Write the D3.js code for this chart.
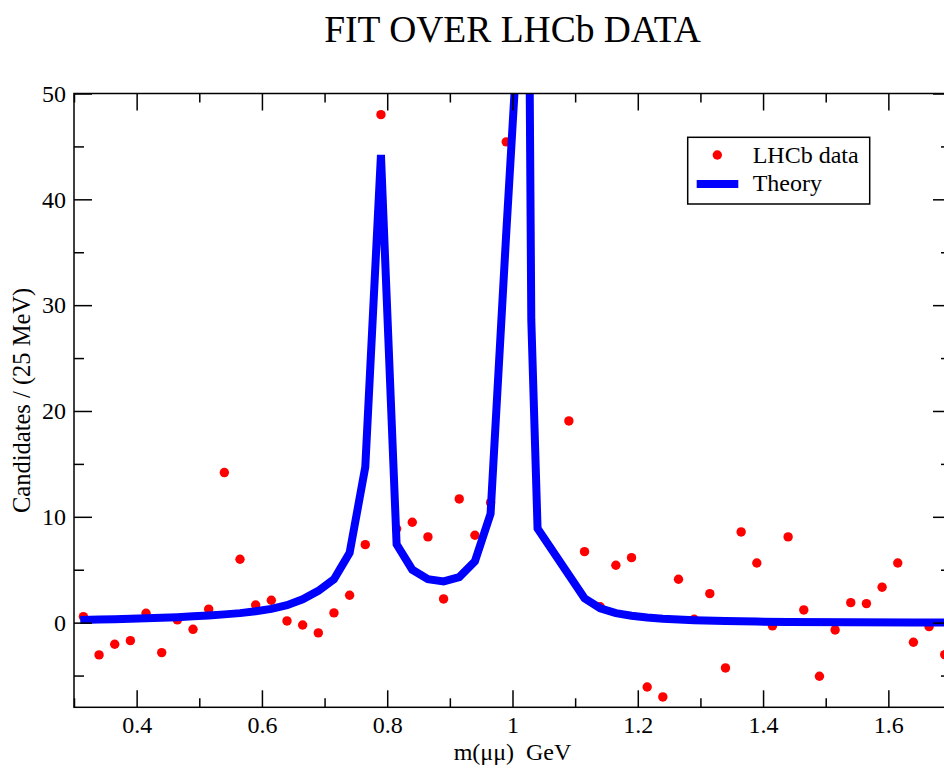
<!DOCTYPE html>
<html>
<head>
<meta charset="utf-8">
<script src="https://cdn.jsdelivr.net/npm/d3@7"></script>
<style>
  html, body { margin: 0; padding: 0; background: #fff; }
  svg { display: block; }
  text { font-family: "Liberation Serif", "Times New Roman", serif; fill: #000; }
</style>
</head>
<body>
<svg id="chart" width="944" height="769"></svg>
<script>
// ---- data ----
const title = "FIT OVER LHCb DATA";
const xLabel = "m(\u03bc\u03bc)  GeV";
const yLabel = "Candidates / (25 MeV)";
const legendLabels = ["LHCb data", "Theory"];

const dataX = [0.315,0.34,0.365,0.39,0.415,0.44,0.465,0.49,0.515,0.54,0.565,0.59,0.615,0.64,0.665,0.69,0.715,0.74,0.765,0.79,0.815,0.84,0.865,0.89,0.915,0.94,0.965,0.99,1.09,1.115,1.14,1.165,1.19,1.215,1.24,1.265,1.29,1.315,1.34,1.365,1.39,1.415,1.44,1.465,1.49,1.515,1.54,1.565,1.59,1.615,1.64,1.665,1.69];
const dataY = [0.57,-3.05,-2.04,-1.70,0.89,-2.83,0.26,-0.63,1.27,14.18,5.99,1.67,2.12,0.16,-0.22,-0.97,0.92,2.59,7.37,48.0,8.86,9.49,8.10,2.24,11.69,8.26,11.34,45.43,19.06,6.71,1.5,5.42,6.14,-6.08,-7.02,4.10,0.32,2.74,-4.28,8.57,5.64,-0.31,8.10,1.20,-5.07,-0.69,1.89,1.80,3.35,5.64,-1.85,-0.38,-3.02];

const theoryX = [0.31,0.34,0.365,0.39,0.415,0.44,0.465,0.49,0.515,0.54,0.565,0.59,0.615,0.64,0.665,0.69,0.715,0.74,0.765,0.79,0.815,0.84,0.865,0.89,0.915,0.94,0.965,0.99,1.025,1.03,1.04,1.115,1.14,1.165,1.19,1.215,1.24,1.29,1.34,1.39,1.44,1.54,1.64,1.7];
const theoryY = [0.25,0.3,0.33,0.37,0.41,0.46,0.52,0.6,0.68,0.78,0.9,1.07,1.3,1.65,2.2,3.0,4.1,6.6,14.7,44.2,7.4,5.0,4.1,3.9,4.3,5.8,10.3,36.8,72,28.6,8.9,2.3,1.36,0.9,0.65,0.48,0.37,0.23,0.15,0.1,0.07,0.04,0.02,0.01];

const xMajor = [0.4,0.6,0.8,1.0,1.2,1.4,1.6];
const xMajorLabels = ["0.4","0.6","0.8","1","1.2","1.4","1.6"];
const xMinor = [0.3,0.5,0.7,0.9,1.1,1.3,1.5,1.7];
const yMajor = [0,10,20,30,40,50];
const yMajorLabels = ["0","10","20","30","40","50"];
const yMinor = [-5,5,15,25,35,45];

// ---- layout ----
const L = 74, R = 951, T = 93.5, B = 707.3;
const svg = d3.select("#chart");
const x = d3.scaleLinear().domain([0.3, 1.7]).range([L, R]);
const y = d3.scaleLinear().domain([-8, 50]).range([B, T]);

svg.append("defs").append("clipPath").attr("id", "clip")
  .append("rect").attr("x", L).attr("y", T).attr("width", R - L).attr("height", B - T);

// data points (drawn under the line)
const plot = svg.append("g").attr("clip-path", "url(#clip)");
plot.selectAll("circle.pt").data(dataX.map((d, i) => [d, dataY[i]]))
  .enter().append("circle").attr("class", "pt")
  .attr("cx", d => x(d[0])).attr("cy", d => y(d[1])).attr("r", 4.7)
  .attr("fill", "#ff0000");

// theory line
const line = d3.line().x(d => x(d[0])).y(d => y(d[1]));
plot.append("path").datum(theoryX.map((d, i) => [d, theoryY[i]]))
  .attr("d", line).attr("fill", "none").attr("stroke", "#0000ff")
  .attr("stroke-width", 8).attr("stroke-linejoin", "miter").attr("stroke-miterlimit", 2);

// axes (ticks pointing inward)
function styleAxis(g) {
  g.select(".domain").remove();
  g.selectAll("line").attr("stroke", "#000").attr("stroke-width", 1.5);
  g.selectAll("text").attr("font-size", 24).attr("font-family", "Liberation Serif, Times New Roman, serif").attr("fill", "#000");
}
const fmtX = d => xMajorLabels[xMajor.findIndex(v => Math.abs(v - d) < 1e-9)];
const fmtY = d => yMajorLabels[yMajor.findIndex(v => Math.abs(v - d) < 1e-9)];

svg.append("g").attr("transform", `translate(0,${B})`)
  .call(d3.axisBottom(x).tickValues(xMajor).tickFormat(fmtX).tickSize(-17).tickPadding(9)).call(styleAxis);
svg.append("g").attr("transform", `translate(0,${B})`)
  .call(d3.axisBottom(x).tickValues(xMinor).tickFormat("").tickSize(-9)).call(styleAxis);
svg.append("g").attr("transform", `translate(0,${T})`)
  .call(d3.axisTop(x).tickValues(xMajor).tickFormat("").tickSize(-17)).call(styleAxis);
svg.append("g").attr("transform", `translate(0,${T})`)
  .call(d3.axisTop(x).tickValues(xMinor).tickFormat("").tickSize(-9)).call(styleAxis);

svg.append("g").attr("transform", `translate(${L},0)`)
  .call(d3.axisLeft(y).tickValues(yMajor).tickFormat(fmtY).tickSize(-18).tickPadding(8)).call(styleAxis);
svg.append("g").attr("transform", `translate(${L},0)`)
  .call(d3.axisLeft(y).tickValues(yMinor).tickFormat("").tickSize(-10)).call(styleAxis);
svg.append("g").attr("transform", `translate(${R},0)`)
  .call(d3.axisRight(y).tickValues(yMajor).tickFormat("").tickSize(-18)).call(styleAxis);
svg.append("g").attr("transform", `translate(${R},0)`)
  .call(d3.axisRight(y).tickValues(yMinor).tickFormat("").tickSize(-10)).call(styleAxis);

// frame
svg.append("rect").attr("x", L).attr("y", T).attr("width", R - L).attr("height", B - T)
  .attr("fill", "none").attr("stroke", "#000").attr("stroke-width", 1.5);

// title & labels
svg.append("text").attr("x", (L + R) / 2).attr("y", 42).attr("text-anchor", "middle")
  .attr("font-size", 37.5).text(title);
svg.append("text").attr("x", (L + R) / 2).attr("y", 760).attr("text-anchor", "middle")
  .attr("font-size", 24).style("white-space", "pre").text(xLabel);
svg.append("text").attr("transform", `translate(30,${(T + B) / 2}) rotate(-90)`)
  .attr("text-anchor", "middle").attr("font-size", 24.5).text(yLabel);

// legend
const lg = svg.append("g");
lg.append("rect").attr("x", 687.7).attr("y", 137.3).attr("width", 182).attr("height", 66.7)
  .attr("fill", "#fff").attr("stroke", "#000").attr("stroke-width", 1.5);
lg.append("circle").attr("cx", 717.3).attr("cy", 155).attr("r", 4.7).attr("fill", "#ff0000");
lg.append("line").attr("x1", 696.7).attr("x2", 738.3).attr("y1", 184).attr("y2", 184)
  .attr("stroke", "#0000ff").attr("stroke-width", 8);
lg.append("text").attr("x", 752.7).attr("y", 163.3).attr("font-size", 24).text(legendLabels[0]);
lg.append("text").attr("x", 752.7).attr("y", 190.5).attr("font-size", 24).text(legendLabels[1]);
</script>
</body>
</html>
